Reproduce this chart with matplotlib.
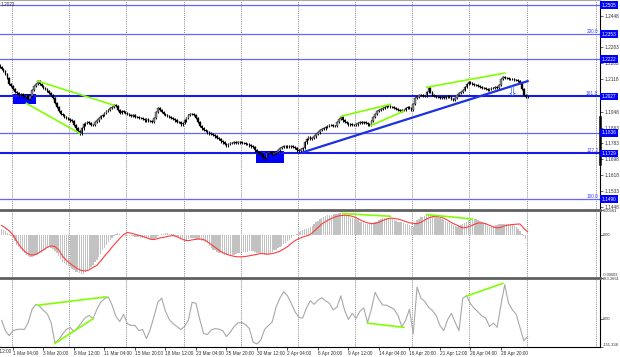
import numpy as np
import matplotlib
matplotlib.use('Agg')
import matplotlib.pyplot as plt

plt.rcParams['font.family'] = ['Liberation Sans', 'DejaVu Sans']

# H4 bars, index 0 = 1 Mar 04:00
first_bar = -7
first_open = 1.2190
closes = [
    1.2180, 1.2170, 1.2159, 1.2143, 1.2122, 1.2091, 1.2081, 1.2065, 1.2049, 1.2044,
    1.2033, 1.2039, 1.2028, 1.2023, 1.2033, 1.2012, 1.2028, 1.2060, 1.2081, 1.2091,
    1.2107, 1.2091, 1.2081, 1.2070, 1.2065, 1.2054, 1.2044, 1.2033, 1.2018, 1.1991,
    1.1971, 1.1950, 1.1934, 1.1929, 1.1918, 1.1913, 1.1908, 1.1902, 1.1897, 1.1876,
    1.1860, 1.1845, 1.1834, 1.1860, 1.1881, 1.1887, 1.1892, 1.1887, 1.1876, 1.1876,
    1.1892, 1.1902, 1.1913, 1.1923, 1.1929, 1.1939, 1.1950, 1.1955, 1.1965, 1.1971,
    1.1981, 1.1976, 1.1955, 1.1939, 1.1950, 1.1944, 1.1939, 1.1934, 1.1929, 1.1923,
    1.1929, 1.1918, 1.1918, 1.1913, 1.1913, 1.1908, 1.1902, 1.1908, 1.1897, 1.1897,
    1.1892, 1.1913, 1.1944, 1.1965, 1.1955, 1.1944, 1.1934, 1.1929, 1.1923, 1.1918,
    1.1913, 1.1908, 1.1902, 1.1892, 1.1892, 1.1881, 1.1887, 1.1902, 1.1913, 1.1929,
    1.1934, 1.1934, 1.1929, 1.1913, 1.1892, 1.1871, 1.1860, 1.1850, 1.1845, 1.1839,
    1.1834, 1.1829, 1.1824, 1.1818, 1.1808, 1.1803, 1.1792, 1.1787, 1.1777, 1.1771,
    1.1777, 1.1782, 1.1782, 1.1787, 1.1782, 1.1787, 1.1787, 1.1782, 1.1782, 1.1777,
    1.1777, 1.1771, 1.1766, 1.1761, 1.1745, 1.1735, 1.1729, 1.1724, 1.1708, 1.1703,
    1.1729, 1.1735, 1.1735, 1.1724, 1.1729, 1.1735, 1.1745, 1.1756, 1.1761, 1.1766,
    1.1766, 1.1766, 1.1761, 1.1766, 1.1761, 1.1756, 1.1745, 1.1740, 1.1750, 1.1756,
    1.1787, 1.1803, 1.1813, 1.1803, 1.1808, 1.1818, 1.1829, 1.1839, 1.1850, 1.1855,
    1.1860, 1.1866, 1.1871, 1.1876, 1.1876, 1.1871, 1.1871, 1.1892, 1.1908, 1.1918,
    1.1902, 1.1892, 1.1887, 1.1881, 1.1881, 1.1876, 1.1876, 1.1881, 1.1887, 1.1892,
    1.1887, 1.1892, 1.1887, 1.1881, 1.1876, 1.1897, 1.1918, 1.1934, 1.1950, 1.1955,
    1.1960, 1.1965, 1.1971, 1.1976, 1.1976, 1.1971, 1.1971, 1.1965, 1.1960, 1.1955,
    1.1950, 1.1955, 1.1955, 1.1965, 1.1971, 1.1965, 1.1955, 1.1986, 1.2018, 1.2023,
    1.2033, 1.2033, 1.2028, 1.2028, 1.2049, 1.2070, 1.2049, 1.2033, 1.2028, 1.2023,
    1.2023, 1.2018, 1.2023, 1.2018, 1.2023, 1.2028, 1.2023, 1.2012, 1.2007, 1.2018,
    1.2033, 1.2044, 1.2049, 1.2060, 1.2075, 1.2091, 1.2101, 1.2096, 1.2091, 1.2086,
    1.2086, 1.2081, 1.2075, 1.2070, 1.2070, 1.2065, 1.2060, 1.2065, 1.2070, 1.2070,
    1.2075, 1.2070, 1.2086, 1.2117, 1.2128, 1.2122, 1.2122, 1.2117, 1.2117, 1.2117,
    1.2112, 1.2112, 1.2107, 1.2096, 1.2065, 1.2033, 1.2023, 1.2023,
]

# MACD main (histogram), units of 1e-4, one per bar
macd_main = [
    10.5, 9, 7, 5, 3, 1, -2, -5, -9, -14,
    -17, -20, -23, -26, -28, -30, -31, -31, -30, -29,
    -28, -26, -25, -23, -21, -19, -17, -18, -20, -23,
    -26, -30, -34, -38, -40, -42, -44, -46, -48, -50,
    -52, -53, -54, -55, -55, -52, -50, -48, -45, -42,
    -39, -36, -31, -27, -22, -18, -14, -10, -7, -4,
    -1, 2, 3, 2, 0, 0, -1, -1, -1, -2,
    -2, -3, -3, -3, -4, -4, -5, -5, -6, -6,
    -7, -6, -4, -1, 0, 1, 2, 3, 3, 2,
    2, 1, -1, -2, -3, -4, -5, -6, -7, -6,
    -5, -4, -5, -6, -6, -7, -8, -9, -10, -11,
    -15, -18, -21, -22, -24, -25, -26, -27, -28, -28,
    -29, -29, -28, -28, -27, -26, -25, -24, -24, -24,
    -24, -23, -23, -23, -24, -25, -25, -26, -27, -28,
    -28, -27, -26, -24, -22, -21, -19, -17, -15, -13,
    -11, -9, -7, -5, -2, 0, 2, 4, 5, 7,
    8, 9, 10, 11, 13, 15, 18, 20, 22, 24,
    26, 27, 28, 29, 29, 30, 30, 30, 31, 31,
    31, 30, 29, 28, 26, 24, 23, 22, 21, 19,
    18, 17, 16, 15, 15, 16, 17, 18, 19, 21,
    22, 24, 24, 24, 24, 24, 23, 21, 20, 19,
    18, 18, 17, 16, 15, 14, 13, 12, 17, 21,
    23, 25, 26, 27, 28, 29, 29, 28, 27, 27,
    26, 24, 23, 21, 20, 18, 17, 16, 14, 13,
    12, 13, 14, 15, 17, 19, 21, 22, 22, 22,
    22, 21, 20, 18, 17, 15, 13, 11, 12, 13,
    14, 14, 15, 16, 16, 16, 15, 15, 14, 14,
    13, 12, 9, 5, 1, -2, -6, -10,
]

# signal line and CCI, read every second bar starting at bar -6
line_first = -6
macd_signal = [
    13.5, 10, 6, 0, -9, -17, -23, -27, -28.5, -27.5,
    -24.5, -21, -17.5, -15.5, -16.5, -21, -30, -36, -40.5, -44.5,
    -48, -50.5, -51, -49.5, -46, -43, -37, -30, -24, -17,
    -11, -5, 0.5, 3.5, 2.5, 1, -0.5, -2, -4, -6,
    -6.5, -5, -3.8, -2.8, -1.5, -0.9, -2.5, -5, -7.5, -8,
    -7, -6.2, -5.6, -6.5, -9.5, -13.5, -17.5, -21.5, -25, -27.2,
    -29, -30.3, -31, -31, -30.5, -29.5, -28.6, -27.5, -26.3, -26.8,
    -27.2, -26.4, -25, -23, -20, -16.5, -12, -8, -5, -3,
    -1.2, 0.5, 5.5, 10.5, 15.5, 19, 22, 24.5, 26.5, 27.5,
    28, 27.6, 26.5, 24.5, 21.5, 19, 17.2, 16, 16.5, 18,
    20.5, 22.5, 24, 23.5, 22.5, 21, 19, 17.2, 16.5, 16,
    18, 21, 24, 25.8, 26.5, 25.5, 23.8, 21, 17.5, 15,
    12.5, 10, 10.8, 12.5, 15, 17, 17, 16, 13.5, 11.5,
    10, 11, 13, 14.2, 14.8, 15.3, 15.5, 9.5, 4.5,
]
cci = [
    -8, -63, -90, -63, -57, -55, -57, -19, 52, 78,
    68, 46, 27, -19, -128, -112, -82, -57, -46, -68,
    -46, -19, 8, 19, 1, 52, 90, 109, 118, 74,
    14, -14, 25, -26, -35, -35, -63, -57, -106, -57,
    14, 90, 112, 41, -3, -26, -41, -57, -41, -8,
    90, 84, -3, -79, -84, -60, -52, -55, -63, -95,
    -72, -41, -22, -19, -30, -52, -126, -135, -114, -57,
    -35, -16, 63, 112, 147, 125, 84, 38, 8, 5,
    60, 98, 79, 101, 114, 98, 84, 49, 64, 125,
    46, -3, 30, 3, 41, 60, -20, 52, 144, 104,
    75, 74, 63, 52, 19, -42, -8, 52, -79, 172,
    112, 95, 63, 46, 19, -35, -63, -5, 30, -19,
    -63, 112, 125, 82, 57, 38, 16, 5, -41, -22,
    -45, 74, 185, 84, 49, 25, -45, -117, -95,
]

levels = [1.2505, 1.2353, 1.2222, 1.2027, 1.1836, 1.1729, 1.1490]
level_text = ['1.2505', '1.2353', '1.2222', '1.2027', '1.1836', '1.1729', '1.1490']
thick_levels = [1.2027, 1.1729]
fib_levels = [1.2353, 1.2027, 1.1729, 1.1490]
fib_text = ['200.0', '161.8', '127.2', '100.0']
price_ticks = [1.2448, 1.2283, 1.2203, 1.2118, 1.1948,
               1.1863, 1.1783, 1.1698, 1.1618, 1.1533, 1.1448]

green_price = [((13, 1.2107), (53, 1.1981)), ((7, 1.1991), (35, 1.1834)),
               ((172, 1.1923), (198, 1.1986)), ((188, 1.1876), (205, 1.1950)),
               ((217, 1.2075), (258, 1.2149))]
trend_line = ((152, 1.1735), (270, 1.2107))
boxes = [(0, 12, 1.1986, 1.2039), (127.5, 142.2, 1.1677, 1.1740)]
arrow_at = (262, 1.2042)
green_macd = [((173, 0.00304), (198, 0.00265)), ((217, 0.00289), (241, 0.00227))]
green_cci = [((13, 74), (49, 119)), ((22, -132), (42, 1)),
             ((186, -23), (205, -45)), ((238, 123), (257, 192))]

macd_top, macd_bot = 0.00361, -0.00603
cci_top, cci_bot = 223.3661, -151.338

date_bars = [-16, 0, 16, 32, 48, 64, 80, 96, 112, 128, 144, 160, 176, 192, 208, 224, 240, 256]
date_text = ['24 Feb 12:00', '1 Mar 04:00', '3 Mar 20:00', '8 Mar 12:00', '11 Mar 04:00',
             '15 Mar 20:00', '18 Mar 12:00', '23 Mar 04:00', '25 Mar 20:00', '30 Mar 12:00',
             '2 Apr 04:00', '6 Apr 20:00', '9 Apr 12:00', '14 Apr 04:00', '16 Apr 20:00',
             '21 Apr 12:00', '26 Apr 04:00', '28 Apr 20:00']
grid_bars = [-0.5, 29.5, 59.5, 89.5, 119.5, 149.5, 179.5, 209.5, 239.5, 269.5, 306]

closes = np.array(closes)
bars = np.arange(first_bar, first_bar + len(closes))
opens = np.r_[first_open, closes[:-1]]
hist = np.array(macd_main) * 1e-4
sig = np.array(macd_signal) * 1e-4
line_x = np.arange(line_first, line_first + 2 * len(cci), 2)
sig_x = np.arange(line_first, line_first + 2 * len(sig), 2)

W, H = 620, 357
fs = 3.4
fs_small = 2.9


def rect(top, bottom):
    return [0, 1 - bottom / H, 600 / W, (bottom - top) / H]


fig = plt.figure(figsize=(6.2, 3.57), dpi=100)
ax1 = fig.add_axes(rect(0, 209.5))
ax2 = fig.add_axes(rect(209.5, 277.5), sharex=ax1)
ax3 = fig.add_axes(rect(277.5, 347), sharex=ax1)

for ax in (ax1, ax2, ax3):
    ax.set_xlim(-6.82, 307.98)
    ax.spines['left'].set_visible(False)
    ax.spines['right'].set_color('black')
    ax.spines['right'].set_linewidth(0.8)
    ax.yaxis.tick_right()
    ax.tick_params(axis='y', length=2, width=0.5, pad=1, labelsize=fs, colors='#303030')
    for g in grid_bars:
        ax.axvline(g, color='#606060', ls=(0, (1.2, 1.6)), lw=0.55, zorder=0)
for ax in (ax2, ax3):
    ax.spines['top'].set_color('#606060')
    ax.spines['top'].set_linewidth(2)
ax1.spines['top'].set_color('#a8a8a8')
ax1.spines['top'].set_linewidth(1.5)
ax1.spines['bottom'].set_visible(False)
ax2.spines['bottom'].set_visible(False)
ax3.spines['bottom'].set_linewidth(0.8)
ax1.tick_params(axis='x', bottom=False, labelbottom=False)
ax2.tick_params(axis='x', bottom=False, labelbottom=False)

# price panel
ax1.set_ylim(1.1436, 1.25312)
for x0, x1, y0, y1 in boxes:
    ax1.fill_between([x0, x1], y0, y1, color='#0000ff', lw=0, zorder=1)
for lv in levels:
    if lv in thick_levels:
        ax1.axhline(lv, color='#1818e8', lw=1.5, zorder=2)
    else:
        ax1.axhline(lv, color='#6464ff', lw=0.9, zorder=2)

wick = 0.0006
lo = np.minimum(opens, closes)
hi = np.maximum(opens, closes)
ax1.vlines(bars, lo - wick, hi + wick, color='black', lw=0.7, zorder=3)
ax1.bar(bars, np.maximum(hi - lo, 0.00006), bottom=lo, width=0.8,
        color=np.where(closes >= opens, '#8c8c8c', 'black'), edgecolor='black', lw=0.25, zorder=4)

for (xa, ya), (xb, yb) in green_price:
    ax1.plot([xa, xb], [ya, yb], color='#80ff00', lw=1.2, zorder=5)
(xa, ya), (xb, yb) = trend_line
ax1.plot([xa, xb], [ya, yb], color='#1c30e0', lw=1.6, zorder=5)
ax1.text(arrow_at[0], arrow_at[1], '\u21e9', color='#2f5fff', fontsize=9.5,
         ha='center', va='center', family=['DejaVu Sans'], zorder=6)

ax1.set_yticks(price_ticks)
ax1.set_yticklabels(['%.4f' % t for t in price_ticks])
ytr = ax1.get_yaxis_transform()
for lv, txt in zip(levels, level_text):
    ax1.text(1.003, lv, txt, transform=ytr, fontsize=fs, color='white', ha='left', va='center',
             bbox=dict(boxstyle='square,pad=0.3', fc='#0000ff', ec='none'), clip_on=False, zorder=10)
for lv, txt in zip(fib_levels, fib_text):
    ax1.text(0.997, lv, txt, transform=ytr, fontsize=fs, color='#4040ff', ha='right', va='bottom')
ax1.plot([1.0, 1.0], [1.1675, 1.1919], transform=ytr, color='black', lw=1.8, clip_on=False, zorder=9)
fig.text(0.001, 1 - 4 / H, '1.2021', fontsize=fs, color='#303030', va='center')

# MACD panel
ax2.set_ylim(macd_bot, macd_top)
ax2.bar(bars, hist, width=0.7, color='#c2c2c2', lw=0, zorder=2)
ax2.plot(sig_x, sig, color='#ff3c3c', lw=0.8, zorder=3)
for (xa, ya), (xb, yb) in green_macd:
    ax2.plot([xa, xb], [ya, yb], color='#80ff00', lw=1.2, zorder=4)
ax2.set_yticks([macd_top, 0, macd_bot])
ax2.set_yticklabels([])
ytr2 = ax2.get_yaxis_transform()
ax2.text(1.004, macd_top, '0.00361', transform=ytr2, fontsize=fs_small, color='#303030', va='top')
ax2.text(1.004, 0, '0.00', transform=ytr2, fontsize=fs_small, color='#303030', va='center')
ax2.text(1.004, macd_bot, '-0.00603', transform=ytr2, fontsize=fs_small, color='#303030', va='bottom')

# CCI panel
ax3.set_ylim(cci_bot, cci_top)
ax3.plot(line_x, cci, color='#a8a8a8', lw=0.8, zorder=3)
for (xa, ya), (xb, yb) in green_cci:
    ax3.plot([xa, xb], [ya, yb], color='#80ff00', lw=1.2, zorder=4)
ax3.set_yticks([cci_top, 0, cci_bot])
ax3.set_yticklabels([])
ytr3 = ax3.get_yaxis_transform()
ax3.text(1.004, cci_top, '223.3661', transform=ytr3, fontsize=fs_small, color='#303030', va='top')
ax3.text(1.004, 0, '0.00', transform=ytr3, fontsize=fs_small, color='#303030', va='center')
ax3.text(1.004, cci_bot, '-151.338', transform=ytr3, fontsize=fs_small, color='#303030', va='bottom')

ax3.set_xticks(date_bars[1:])
ax3.set_xticklabels(date_text[1:], fontsize=fs, color='#303030')
for lab in ax3.get_xticklabels():
    lab.set_horizontalalignment('left')
ax3.tick_params(axis='x', length=2, width=0.5, pad=0.8)
ax3.text(date_bars[0], -0.025, date_text[0], transform=ax3.get_xaxis_transform(),
         fontsize=fs, color='#303030', ha='left', va='top', clip_on=False)

fig.savefig('out.png', dpi=100, facecolor='white')
